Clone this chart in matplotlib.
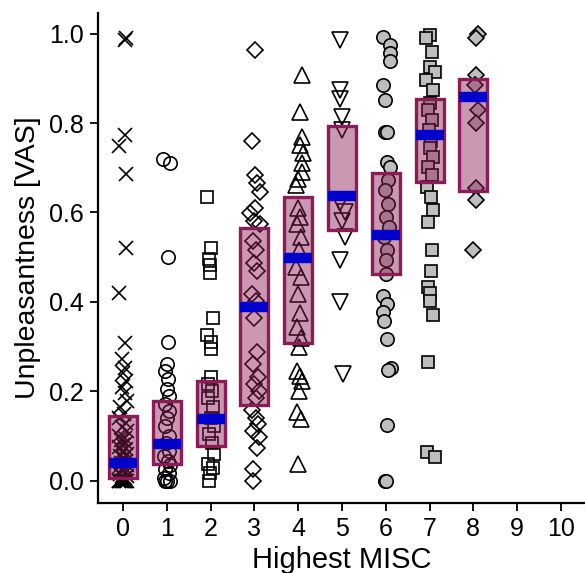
import matplotlib
matplotlib.use('Agg')
import matplotlib.pyplot as plt
from matplotlib.patches import Rectangle
import numpy as np

plt.rcParams['font.family'] = ['Liberation Sans', 'DejaVu Sans']

# unpleasantness ratings per highest MISC score, with the horizontal jitter
vas0 = [0.99, 0.985, 0.773, 0.748, 0.685, 0.52, 0.419, 0.309, 0.273, 0.253,
        0.24, 0.224, 0.209, 0.195, 0.179, 0.164, 0.15, 0.14, 0.13, 0.12,
        0.11, 0.10, 0.095, 0.09, 0.085, 0.08, 0.075, 0.07, 0.065, 0.06,
        0.055, 0.05, 0.045, 0.04, 0.035, 0.03, 0.03, 0.025, 0.02, 0.015,
        0.01, 0.01, 0.005, 0.0, 0.0, 0.0, 0.0, 0.0, 0.0, 0.0, 0.0, 0.0]
jit0 = [0.08, 0.05, 0.05, -0.08, 0.07, 0.08, -0.09, 0.05, -0.03, 0.05,
        0.0, 0.08, -0.02, 0.05, 0.09, -0.06, 0.03, -0.08, 0.06, -0.02,
        0.1, -0.1, 0.04, -0.05, 0.08, 0.0, -0.09, 0.06, -0.03, 0.1,
        -0.06, 0.02, 0.07, -0.04, 0.09, -0.1, 0.03, -0.02, 0.06, -0.07,
        0.1, -0.03, 0.04, -0.1, -0.05, 0.0, 0.05, 0.1, -0.08, 0.08, 0.02, -0.02]

vas1 = [0.72, 0.71, 0.50, 0.31, 0.262, 0.246, 0.228, 0.206, 0.19, 0.172,
        0.155, 0.141, 0.123, 0.10, 0.085, 0.067, 0.055, 0.045, 0.035, 0.027,
        0.018, 0.007, 0.0, 0.0, 0.0]
jit1 = [-0.09, 0.07, 0.02, 0.02, 0.0, -0.03, 0.03, 0.0, 0.05, -0.04,
        0.06, 0.0, -0.05, 0.04, -0.02, 0.06, -0.06, 0.02, 0.08, -0.03,
        0.05, -0.06, 0.0, 0.07, -0.04]

vas2 = [0.634, 0.52, 0.497, 0.482, 0.464, 0.363, 0.325, 0.31, 0.295, 0.231,
        0.217, 0.20, 0.186, 0.164, 0.141, 0.123, 0.105, 0.085, 0.06, 0.038,
        0.028, 0.018, 0.0]
jit2 = [-0.09, 0.02, -0.03, -0.02, -0.02, 0.06, -0.09, 0.0, 0.0, 0.02,
        -0.05, 0.04, -0.06, 0.05, 0.0, 0.08, -0.04, 0.03, 0.07, -0.05,
        0.06, -0.02, -0.03]

vas3 = [0.963, 0.761, 0.683, 0.665, 0.645, 0.611, 0.598, 0.582, 0.575, 0.537,
        0.515, 0.488, 0.47, 0.418, 0.403, 0.365, 0.287, 0.262, 0.231, 0.217,
        0.20, 0.186, 0.157, 0.141, 0.127, 0.112, 0.097, 0.074, 0.027, 0.0]
jit3 = [0.01, -0.06, 0.01, 0.05, 0.12, 0.01, -0.1, 0.0, 0.12, -0.03,
        0.04, 0.0, 0.06, -0.05, 0.03, 0.0, 0.05, -0.04, 0.08, 0.0,
        0.1, 0.03, -0.06, 0.04, 0.08, -0.02, 0.1, 0.05, -0.03, -0.04]

vas4 = [0.907, 0.825, 0.769, 0.75, 0.732, 0.71, 0.69, 0.676, 0.661, 0.611,
        0.589, 0.575, 0.545, 0.515, 0.477, 0.455, 0.418, 0.374, 0.343, 0.32,
        0.298, 0.246, 0.235, 0.224, 0.20, 0.153, 0.138, 0.038]
jit4 = [0.08, 0.04, 0.08, 0.04, 0.12, 0.08, 0.08, 0.0, -0.04, 0.0,
        0.05, -0.03, 0.06, 0.02, -0.04, 0.07, 0.0, 0.05, -0.02, 0.06,
        0.02, -0.03, 0.04, 0.08, 0.02, -0.02, 0.06, 0.0]

vas5 = [0.985, 0.873, 0.855, 0.813, 0.784, 0.622, 0.60, 0.582, 0.545, 0.493,
        0.399, 0.239]
jit5 = [-0.05, -0.05, -0.05, 0.0, 0.0, -0.05, 0.07, 0.0, 0.07, -0.05,
        -0.05, 0.03]

vas6 = [0.993, 0.974, 0.956, 0.94, 0.885, 0.851, 0.78, 0.78, 0.713, 0.702,
        0.672, 0.65, 0.62, 0.589, 0.567, 0.545, 0.515, 0.493, 0.463, 0.414,
        0.396, 0.377, 0.358, 0.318, 0.253, 0.248, 0.125, 0.0, 0.0]
jit6 = [-0.06, 0.1, 0.1, 0.1, -0.06, -0.02, -0.02, 0.02, 0.02, 0.1,
        0.05, -0.02, 0.06, 0.0, 0.08, -0.03, 0.04, 0.0, 0.0, -0.06,
        0.02, -0.06, -0.05, 0.02, 0.13, 0.05, 0.02, -0.01, 0.01]

vas7 = [0.997, 0.99, 0.96, 0.926, 0.914, 0.896, 0.873, 0.844, 0.829, 0.806,
        0.784, 0.761, 0.744, 0.724, 0.702, 0.683, 0.657, 0.634, 0.605, 0.579,
        0.515, 0.47, 0.433, 0.42, 0.403, 0.37, 0.265, 0.063, 0.052]
jit7 = [0.01, -0.07, 0.05, 0.01, 0.12, -0.07, 0.08, 0.01, -0.04, 0.06,
        -0.02, 0.04, 0.0, 0.08, -0.03, 0.05, -0.05, 0.03, 0.07, -0.04,
        0.06, 0.03, -0.04, 0.0, 0.02, 0.07, -0.04, -0.05, 0.12]

vas8 = [1.0, 0.99, 0.907, 0.885, 0.829, 0.80, 0.654, 0.627, 0.515]
jit8 = [0.11, 0.07, 0.07, 0.03, 0.11, 0.06, 0.07, 0.07, 0.0]

# summary boxes (lower edge, centre band, upper edge) per MISC score
box_lo = [0.007, 0.037, 0.078, 0.170, 0.308, 0.561, 0.463, 0.668, 0.647]
box_mid = [0.040, 0.082, 0.139, 0.388, 0.499, 0.637, 0.550, 0.773, 0.858]
box_hi = [0.144, 0.179, 0.224, 0.565, 0.634, 0.793, 0.688, 0.853, 0.898]

misc_ticks = list(range(11))
vas_ticks = [0.0, 0.2, 0.4, 0.6, 0.8, 1.0]

groups = [(vas0, jit0), (vas1, jit1), (vas2, jit2), (vas3, jit3), (vas4, jit4),
          (vas5, jit5), (vas6, jit6), (vas7, jit7), (vas8, jit8)]
markers = ['x', 'o', 's', 'D', '^', 'v', 'o', 's', 'D']
msizes = [10, 9.6, 8.6, 8.3, 12, 12, 9.6, 8.6, 8.3]
fills = ['none'] * 6 + ['#bebebe'] * 3

maroon = '#8b1c56'
blue = '#0000cd'

fig = plt.figure(figsize=(5.85, 5.73), dpi=100)
ax = fig.add_axes([98 / 585, 70 / 573, 487 / 585, 490.3 / 573])

for i, (vas, jit) in enumerate(groups):
    x = i + np.array(jit)
    ax.plot(x, vas, linestyle='none', marker=markers[i], ms=msizes[i],
            mfc=fills[i], mec='black', mew=1.2, zorder=2)

w = 0.32
for i in range(len(box_mid)):
    ax.add_patch(Rectangle((i - w, box_lo[i]), 2 * w, box_hi[i] - box_lo[i],
                           facecolor=maroon, alpha=0.45, edgecolor='none', zorder=3))
    ax.add_patch(Rectangle((i - w, box_lo[i]), 2 * w, box_hi[i] - box_lo[i],
                           facecolor='none', edgecolor=maroon, lw=2.4, zorder=4))
    ax.plot([i - w, i + w], [box_mid[i], box_mid[i]], color=blue, lw=7.5,
            solid_capstyle='butt', zorder=5)

ax.set_xlim(-0.57, 10.55)
ax.set_ylim(-0.05, 1.047)
ax.set_xticks(misc_ticks)
ax.set_yticks(vas_ticks)
ax.set_yticklabels([f'{v:.1f}' for v in vas_ticks])

for s in ['top', 'right']:
    ax.spines[s].set_visible(False)
for s in ['left', 'bottom']:
    ax.spines[s].set_linewidth(1.6)
ax.tick_params(axis='both', length=6, width=1.3, labelsize=18, pad=4)

ax.set_xlabel('Highest MISC', fontsize=21)
ax.set_ylabel('Unpleasantness [VAS]', fontsize=20.5)
ax.xaxis.set_label_coords(0.5, -0.088)
ax.yaxis.set_label_coords(-0.118, 0.5)

fig.savefig('out.png', dpi=100)
